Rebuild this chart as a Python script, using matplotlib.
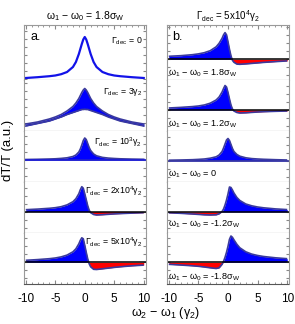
import numpy as np
import matplotlib.pyplot as plt
from matplotlib.ticker import MultipleLocator

plt.rcParams['font.family'] = ['Liberation Sans', 'DejaVu Sans']
plt.rcParams['mathtext.default'] = 'regular'
plt.rcParams['axes.unicode_minus'] = False

# detuning omega2 - omega1 (gamma2)
x = np.array([-10, -8, -6, -5, -4, -3, -2, -1.5, -1, -0.75, -0.5, -0.25, 0,
              0.25, 0.5, 0.75, 1, 1.5, 2, 3, 4, 5, 6, 8, 10])

# left column: omega1 - omega0 = 1.8 sigma_W, different Gamma_dec
gam0 = [1.0, 1.8, 2.8, 3.5, 4.8, 7.0, 12.0, 17, 25, 30, 35, 39.5, 42,
        39.5, 35, 30, 25, 17, 12, 7.0, 4.8, 3.5, 2.8, 1.8, 1.0]
gam3_hi = [6.5, 8.5, 11.5, 13.5, 16, 19.5, 24, 27.5, 32, 35, 38, 40.5, 42,
           40.5, 38, 35, 32, 27.5, 24, 19.5, 16, 13.5, 11.5, 8.5, 6.5]
gam3_lo = [4.5, 7, 9.5, 11.5, 13.5, 16, 18, 19, 20, 20.5, 21, 21, 21.2,
           21, 21, 20.5, 20, 19, 18, 16, 13.5, 11.5, 9.5, 7, 4.5]
gam1e3 = [0.5, 0.7, 1.0, 1.2, 1.6, 2.2, 3.5, 5, 8, 11, 15, 19.5, 22,
          20.5, 16.5, 12.5, 9.5, 6, 4.2, 2.6, 1.9, 1.5, 1.2, 0.9, 0.7]
gam2e4 = [2.0, 2.6, 3.4, 4.0, 5.0, 6.8, 10, 13, 18, 22, 25, 23.5, 18,
          12, 6, 1.5, -1, -2.8, -3.3, -3.0, -2.6, -2.2, -1.9, -1.4, -1.0]
gam5e4 = [2.0, 2.7, 3.6, 4.3, 5.4, 7.2, 10.5, 13.5, 18.5, 22, 24.5, 23.5, 17,
          10, 3.5, -1.5, -4.5, -7, -7.2, -6.5, -5.8, -5.1, -4.5, -3.5, -2.8]

# right column: Gamma_dec = 5x10^4 gamma2, different omega1 - omega0
det18 = [3.0, 3.6, 4.6, 5.4, 6.6, 8.6, 12.5, 16, 21, 24.5, 26.7, 24.5, 17.5,
         10, 3.5, -1, -3, -4.8, -5, -4.6, -4.1, -3.6, -3.1, -2.3, -1.6]
det12 = [2.0, 2.6, 3.4, 4.0, 5.0, 6.8, 10, 13, 18, 21.5, 24.5, 23, 17.5,
         11, 5, 1, -1, -2.5, -3, -2.8, -2.4, -2.0, -1.7, -1.3, -1.0]
det0 = [0.8, 1.0, 1.3, 1.6, 2.0, 2.8, 4.2, 6, 9.5, 13, 17, 21, 22.5,
        20.5, 16.5, 12.5, 9.5, 6.5, 4.8, 3.2, 2.4, 2.0, 1.7, 1.3, 1.0]
detm12 = [-0.8, -1.3, -2.0, -2.4, -2.8, -3.0, -2.8, -1.8, 0.5, 3, 7, 12, 18,
          25, 24.5, 22, 19, 14.5, 11.5, 8, 6.2, 5, 4.2, 3.1, 2.4]
detm18 = [-2.0, -2.7, -3.5, -4.0, -4.7, -5.5, -6.2, -5.5, -2, 1, 5, 10, 16,
          23, 26.3, 25, 22.5, 18, 14.5, 10.5, 8.2, 6.8, 5.8, 4.5, 3.6]

left_labels = ['Γ$_{dec}$ = 0', 'Γ$_{dec}$ = 3γ$_2$', 'Γ$_{dec}$ = 10$^3$γ$_2$',
               'Γ$_{dec}$ = 2x10$^4$γ$_2$', 'Γ$_{dec}$ = 5x10$^4$γ$_2$']
right_labels = ['ω$_1$ − ω$_0$ = 1.8σ$_W$', 'ω$_1$ − ω$_0$ = 1.2σ$_W$',
                'ω$_1$ − ω$_0$ = 0', 'ω$_1$ − ω$_0$ = -1.2σ$_W$',
                'ω$_1$ − ω$_0$ = -1.8σ$_W$']

BLUE = '#0000ff'
RED = '#ff0000'
NAVY = '#3a3a9e'
W, H = 295, 324
rows = [25, 80, 130.5, 181.5, 232.5, 283.5]
cols = [(24, 121.5), (167, 122)]
base_left = [1.0, 0, 21.5, 20.8, 21.2]
base_right = [20.7, 20.5, 20.5, 20.5, 21.2]


def make_ax(col, row, base):
    x0, w = cols[col]
    top, bot = rows[row], rows[row + 1]
    ax = fig.add_axes([x0 / W, 1 - bot / H, w / W, (bot - top) / H])
    ax.set_xlim(-10.3, 10.3)
    ax.set_ylim(-base, bot - top - base)
    for s in ['left', 'right']:
        ax.spines[s].set_color('#9a9a9a')
        ax.spines[s].set_linewidth(0.8)
    ax.spines['top'].set_visible(row == 0)
    ax.spines['top'].set_color('#9a9a9a')
    ax.spines['bottom'].set_linestyle((0, (1, 1)))
    ax.spines['bottom'].set_color('#555555')
    ax.spines['bottom'].set_linewidth(0.8)
    ax.yaxis.set_major_locator(MultipleLocator(8))
    ax.tick_params(axis='y', direction='in', length=2, color='#888888',
                   left=True, right=True, labelleft=False)
    ax.xaxis.set_major_locator(MultipleLocator(5))
    ax.xaxis.set_minor_locator(MultipleLocator(1))
    last = row == 4
    ax.tick_params(axis='x', which='both', direction='in', color='#888888',
                   top=(row == 0), bottom=last, labelbottom=last, labelsize=8.5,
                   pad=7)
    ax.tick_params(axis='x', which='major', length=3)
    ax.tick_params(axis='x', which='minor', length=1.5)
    return ax


def draw_signal(ax, y, baseline=True):
    y = np.asarray(y, dtype=float)
    ax.fill_between(x, 0, y, where=y >= 0, interpolate=True, color=BLUE, lw=0)
    ax.fill_between(x, 0, y, where=y <= 0, interpolate=True, color=RED, lw=0)
    ax.plot(x, y, color=NAVY, lw=1.2, solid_capstyle='butt')
    if baseline:
        ax.axhline(0, color='k', lw=1.1)
    else:
        ax.axhline(0, color=NAVY, lw=1.2)


fig = plt.figure(figsize=(W / 100, H / 100), dpi=100)

# left column
axl = [make_ax(0, i, base_left[i]) for i in range(5)]
axl[0].plot(x, gam0, color='#1212e8', lw=1.6)
axl[1].fill_between(x, gam3_lo, gam3_hi, color=BLUE, lw=0)
axl[1].plot(x, gam3_hi, color=NAVY, lw=1.2)
axl[1].plot(x, gam3_lo, color=NAVY, lw=1.2)
axl[2].fill_between(x, 0, gam1e3, color=BLUE, lw=0)
axl[2].plot(x, gam1e3, color=NAVY, lw=1.2)
axl[2].axhline(0, color='#2020d0', lw=1.3)
draw_signal(axl[3], gam2e4)
draw_signal(axl[4], gam5e4)
label_y = [0.70, 0.77, 0.78, 0.82, 0.82]
for ax, lab, ly in zip(axl, left_labels, label_y):
    ax.text(0.975, ly, lab, transform=ax.transAxes, ha='right', va='center',
            fontsize=6.3)
axl[0].text(0.05, 0.79, 'a.', transform=axl[0].transAxes, ha='left',
            va='center', fontsize=9)

# right column
axr = [make_ax(1, i, base_right[i]) for i in range(5)]
for ax, y in zip(axr, [det18, det12, det0, detm12, detm18]):
    draw_signal(ax, y, baseline=(y is not det0))
label_y = [0.12, 0.13, 0.15, 0.16, 0.13]
for ax, lab, ly in zip(axr, right_labels, label_y):
    ax.text(0.012, ly, lab, transform=ax.transAxes, ha='left', va='center',
            fontsize=6.6)
axr[0].text(0.04, 0.79, 'b.', transform=axr[0].transAxes, ha='left',
            va='center', fontsize=9)

fig.text(84.75 / W, 1 - 16 / H, 'ω$_1$ − ω$_0$ = 1.8σ$_W$', ha='center',
         va='center', fontsize=7.5)
fig.text(228 / W, 1 - 16 / H, 'Γ$_{dec}$ = 5x10$^4$γ$_2$', ha='center',
         va='center', fontsize=7)
fig.text(166 / W, 1 - 313 / H, 'ω$_2$ − ω$_1$ (γ$_2$)', ha='center',
         va='center', fontsize=9)
fig.text(8 / W, 1 - 150 / H, 'dT/T (a.u.)', ha='center', va='center',
         rotation=90, fontsize=9.5)

fig.savefig('out.png', dpi=100)
